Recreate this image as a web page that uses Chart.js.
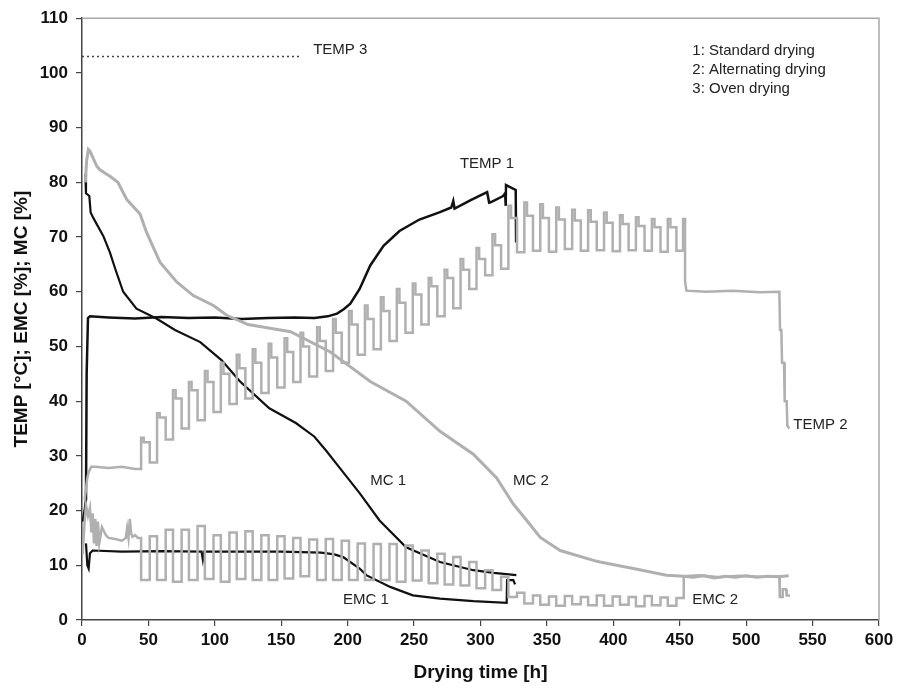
<!DOCTYPE html>
<html><head><meta charset="utf-8">
<script src="https://cdn.jsdelivr.net/npm/chart.js@4.4.0/dist/chart.umd.min.js"></script>
<style>html,body{margin:0;padding:0;background:#fff;}</style>
</head><body>
<canvas id="c" width="899" height="690"></canvas>
<script>
// ---------- data (hours, values) ----------
const xTicks = [0,50,100,150,200,250,300,350,400,450,500,550,600];
const yTicks = [0,10,20,30,40,50,60,70,80,90,100,110];

const temp3H = [0, 165];
const temp3V = [103, 103];

const temp1H = [0.5, 2, 3, 3.5, 4.5, 6, 20, 40, 60, 80, 100, 120, 140, 160, 175, 185, 192, 197, 202, 209, 217, 227, 239, 254, 269, 278, 279.5, 280.5, 293, 305, 306.5, 308, 317, 318.5, 319, 319.2, 326.5, 326.8];
const temp1V = [18, 20, 22, 45, 55.2, 55.5, 55.3, 55.1, 55.4, 55.2, 55.3, 55.0, 55.2, 55.3, 55.2, 55.5, 56, 56.8, 57.8, 60.5, 64.8, 68.4, 71.1, 73.2, 74.5, 75.4, 76.6, 75.2, 76.8, 78.2, 76.3, 76.4, 77.5, 78, 75.7, 79.5, 78.6, 69];

const mc1H = [2.5, 3, 5.5, 6.5, 8.5, 16, 21, 25, 31, 41, 56, 70, 89, 105, 119, 141, 161, 175, 184, 194, 209, 224, 244, 269.5, 294.6, 310, 327];
const mc1V = [81.5, 78, 77.5, 74.5, 73.5, 70.2, 67.2, 64.2, 60, 56.9, 55.1, 53, 50.8, 47.5, 43.6, 38.7, 36, 33.5, 30.9, 27.8, 23.2, 18.2, 13.3, 10.6, 9.1, 8.6, 8.2];

const emc1H = [3, 4, 5, 6, 8, 30, 60, 90, 91, 92, 120, 150, 180, 190, 196.6, 209, 214, 232, 249, 269.5, 294.6, 319.7, 320, 324.7, 326];
const emc1V = [14, 10, 9.4, 12.2, 12.7, 12.5, 12.6, 12.5, 11, 12.5, 12.5, 12.5, 12.3, 12, 11.5, 9.4, 8.2, 6.05, 4.5, 3.9, 3.45, 3.15, 7.3, 7.3, 6.5];

const mc2H = [2.5, 3.5, 4.8, 6, 11, 13.5, 21, 27, 33.6, 43.7, 48.7, 58.7, 71.3, 83.8, 98.9, 109, 125, 157, 187, 217, 244, 269.5, 294.6, 312, 324.7, 334.8, 345, 360, 385, 390, 415, 440, 452.7, 460, 468, 476, 484, 492, 500, 508, 516, 524, 532];
const mc2V = [80, 84, 86, 85.7, 83, 82.3, 81.1, 80, 76.9, 74.2, 70.8, 65.4, 61.8, 59.3, 57.5, 55.7, 54, 52.7, 49, 43.6, 40, 34.5, 30.3, 26, 21.2, 18.2, 15.1, 12.7, 10.9, 10.6, 9.4, 8.2, 8, 7.8, 8.1, 7.7, 8.0, 7.8, 8.1, 7.8, 8.0, 7.9, 8.1];

// TEMP 2 start, alternating cycles, and tail
const temp2StartH = [2, 3, 4, 5, 7, 10, 20, 30, 40];
const temp2StartV = [22, 24, 26, 27, 28, 28, 27.8, 28, 27.6];
const cycleH = [44.5, 56.5, 68.5, 80.5, 92.5, 104.5, 116.5, 128.5, 140.5, 152.5, 164.5, 177, 189, 201, 213, 225, 237, 249, 261, 273, 285, 297, 309, 321, 333, 345, 357, 369, 381, 393, 405, 417, 429, 441];
const temp2Peak = [33.3, 37.8, 42, 43.5, 45.5, 47, 48.5, 49.5, 50.5, 51.5, 52.5, 53.5, 55, 56.5, 57.5, 59, 60.5, 61.5, 62.5, 64, 66, 68, 70.5, 75.7, 76.3, 76, 75.4, 75, 74.9, 74.5, 74, 73.6, 73.3, 73.3];
const temp2Shoulder = [32.5, 37, 40.5, 42, 43.5, 45, 46, 47, 48, 49, 50, 51, 52.5, 54, 55, 56.5, 58, 59.5, 61, 62.5, 64, 66, 68.5, 73.5, 73.9, 73.5, 73.2, 73, 72.8, 72.6, 72.4, 72, 71.8, 71.8];
const temp2Trough = [28.8, 33, 35, 36.5, 38, 39.5, 40.5, 41.5, 42.5, 43.5, 44.5, 45.5, 47, 48.5, 49.5, 51, 52.5, 54, 55.5, 57, 60.5, 63, 64.2, 67.2, 67.5, 67.3, 67.8, 67.5, 67.6, 67.4, 67.6, 67.5, 67.3, 67.5];
const temp2TailH = [452.5, 452.5, 454, 454, 455, 470, 490, 510, 525, 525.5, 526.5, 527, 528.5, 529, 530.5, 531, 532.5];
const temp2TailV = [67.5, 73.3, 73.3, 62, 60.2, 60, 60.2, 59.9, 60, 53, 53, 47, 47, 40, 40, 35.5, 35];

// EMC 2 start, alternating cycles, and tail
const emc2StartH = [0.5, 2, 3, 4.5, 6, 7, 8, 9, 10, 11, 12, 13, 15, 18, 20, 25, 30, 33, 34, 35, 36, 37, 38, 40, 42];
const emc2StartV = [12, 18, 21, 19, 20.5, 16, 19.5, 14, 18.5, 13.5, 18, 14, 17, 15.5, 15, 14.8, 14.5, 15, 16.8, 15, 18.5, 15.8, 15.2, 15.5, 15];
const emc2Low = [7.3, 7.3, 7, 7.3, 7.5, 7, 7.5, 7.3, 7.3, 7.6, 8, 7.3, 7.3, 7.3, 7.3, 7.3, 7.0, 7.2, 6.7, 6.5, 6.3, 5.8, 5.5, 4.2, 3, 2.8, 2.6, 2.9, 2.7, 2.6, 2.8, 2.5, 2.7, 2.6];
const emc2High = [15.3, 16.5, 16.5, 17.2, 15.5, 16, 16.2, 15.5, 15.3, 15, 14.7, 14.8, 14.5, 14, 13.9, 13.9, 13.6, 12.7, 12.1, 11.5, 10.6, 9.1, 7.9, 5, 4.5, 4.3, 4.4, 4.2, 4.5, 4.3, 4.2, 4.4, 4.1, 4.0];
const emc2TailH = [453, 453, 465, 480, 495, 510, 525, 525.3, 527, 527.5, 530, 530.5, 533];
const emc2TailV = [4.0, 8.0, 8.2, 7.8, 8.1, 7.9, 8.0, 4.2, 4.2, 5.6, 5.6, 4.5, 4.5];

// within-cycle timing (hours after the cycle start)
const shoulderAt = 2, dropAt = 6.5;

// text labels placed in data units
const textLabels = [
  {text:'TEMP 3', x:174, y:104.2},
  {text:'TEMP 1', x:284.5, y:83.4},
  {text:'MC 1', x:217, y:25.4},
  {text:'MC 2', x:324.5, y:25.4},
  {text:'EMC 1', x:196.5, y:3.6},
  {text:'EMC 2', x:459.5, y:3.6},
  {text:'TEMP 2', x:535.5, y:35.6},
  {text:'1: Standard drying', x:459.5, y:104.1},
  {text:'2: Alternating drying', x:459.5, y:100.6},
  {text:'3: Oven drying', x:459.5, y:97.1}
];

// ---------- build point lists ----------
function pts(h, v){ return h.map((x,i)=>({x:x, y:v[i]})); }

const temp2 = pts(temp2StartH, temp2StartV);
const emc2 = pts(emc2StartH, emc2StartV);
for (let k=0; k<cycleH.length; k++){
  const c = cycleH[k];
  const next = k+1<cycleH.length ? cycleH[k+1] : temp2TailH[0];
  const prevT = k===0 ? temp2StartV[temp2StartV.length-1] : temp2Trough[k-1];
  temp2.push({x:c,y:prevT},{x:c,y:temp2Peak[k]},{x:c+shoulderAt,y:temp2Peak[k]},{x:c+shoulderAt,y:temp2Shoulder[k]},
             {x:c+dropAt,y:temp2Shoulder[k]},{x:c+dropAt,y:temp2Trough[k]},{x:next,y:temp2Trough[k]});
  const prevE = k===0 ? emc2StartV[emc2StartV.length-1] : emc2High[k-1];
  emc2.push({x:c,y:prevE},{x:c,y:emc2Low[k]},{x:c+dropAt,y:emc2Low[k]},{x:c+dropAt,y:emc2High[k]});
}
temp2.push(...pts(temp2TailH, temp2TailV));
emc2.push(...pts(emc2TailH, emc2TailV));

const GRAY = '#b0b0b0', BLACK = '#111111';
function ds(data, color, width, extra){
  return Object.assign({data:data, borderColor:color, borderWidth:width, pointRadius:0, fill:false, tension:0, showLine:true}, extra||{});
}

const framePlugin = {
  id:'frame',
  afterDatasetsDraw(chart){
    const {ctx, chartArea:a} = chart;
    ctx.save();
    ctx.strokeStyle = '#a8a8a8'; ctx.lineWidth = 1.5;
    ctx.beginPath(); ctx.moveTo(a.left, a.top); ctx.lineTo(a.right, a.top); ctx.lineTo(a.right, a.bottom); ctx.stroke();
    ctx.restore();
  }
};
const textPlugin = {
  id:'texts',
  afterDatasetsDraw(chart){
    const {ctx, scales:{x, y}} = chart;
    ctx.save();
    ctx.font = '15px Arial, "Liberation Sans", sans-serif';
    ctx.fillStyle = '#222';
    ctx.textBaseline = 'middle'; ctx.textAlign = 'left';
    textLabels.forEach(l => ctx.fillText(l.text, x.getPixelForValue(l.x), y.getPixelForValue(l.y)));
    ctx.restore();
  }
};

const tickFont = {family:'Arial, "Liberation Sans", sans-serif', size:17, weight:'bold'};
const titleFont = {family:'Arial, "Liberation Sans", sans-serif', size:19, weight:'bold'};

new Chart(document.getElementById('c'), {
  type:'scatter',
  data:{datasets:[
    ds(pts(temp3H, temp3V), '#444', 1.5, {borderDash:[2,3]}),
    ds(temp2, GRAY, 2.5),
    ds(emc2, GRAY, 2.5),
    ds(pts(mc2H, mc2V), GRAY, 3),
    ds(pts(temp1H, temp1V), BLACK, 2.5),
    ds(pts(mc1H, mc1V), BLACK, 2.2),
    ds(pts(emc1H, emc1V), BLACK, 2.2)
  ]},
  options:{
    responsive:false, animation:false,
    layout:{padding:{left:0, right:20, top:14, bottom:0}},
    plugins:{legend:{display:false}, tooltip:{enabled:false}},
    scales:{
      x:{type:'linear', min:0, max:600,
         afterBuildTicks(s){ s.ticks = xTicks.map(v=>({value:v})); },
         ticks:{font:tickFont, color:'#111', padding:4, maxRotation:0, autoSkip:false},
         grid:{display:true, drawOnChartArea:false, drawTicks:true, tickLength:6, color:'#444', lineWidth:1.2},
         border:{display:true, color:'#444', width:1.5},
         title:{display:true, text:'Drying time [h]', font:titleFont, color:'#111', padding:{top:0, bottom:6}},
         afterFit(s){ s.height = 70; }},
      y:{type:'linear', min:0, max:110,
         afterBuildTicks(s){ s.ticks = yTicks.map(v=>({value:v})); },
         ticks:{font:tickFont, color:'#111', padding:8, autoSkip:false},
         grid:{display:true, drawOnChartArea:false, drawTicks:true, tickLength:6, color:'#444', lineWidth:1.2},
         border:{display:true, color:'#444', width:1.5},
         title:{display:true, text:'TEMP [°C]; EMC [%]; MC [%]', font:titleFont, color:'#111', padding:{top:10, bottom:0}},
         afterFit(s){ s.width = 82; }}
    }
  },
  plugins:[framePlugin, textPlugin]
});
</script>
</body></html>
